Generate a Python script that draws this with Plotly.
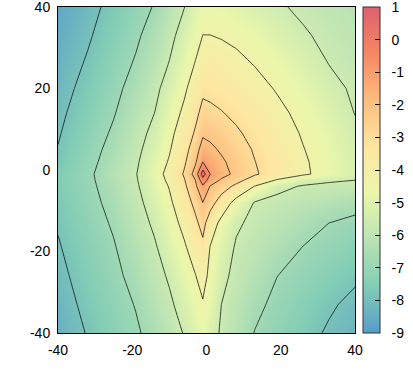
import plotly.graph_objects as go

# grid nodes (contour positions + fill colours)
x_nodes = [-40, -32, -25, -19, -14, -10, -6, -3, -1, 1, 4, 8, 13, 19, 26, 33, 40]
y_nodes = [-40, -33, -26, -19, -13, -8, -4, -2.5, -1, 2, 5, 9, 14, 20, 26, 33, 40]

row_m40 = [-8.43, -7.85, -7.35, -6.93, -6.45, -6.01, -5.55, -5.08, -4.76, -5.17, -5.72, -6.22, -6.83, -7.20, -7.63, -8.00, -8.30]
row_m33 = [-8.28, -7.69, -7.20, -6.75, -6.20, -5.77, -5.20, -4.72, -4.40, -4.89, -5.60, -6.03, -6.58, -7.02, -7.41, -7.79, -8.10]
row_m26 = [-8.12, -7.54, -7.03, -6.50, -5.96, -5.48, -4.83, -4.34, -3.87, -4.60, -5.35, -5.85, -6.28, -6.79, -7.12, -7.45, -7.77]
row_m19 = [-7.97, -7.38, -6.87, -6.25, -5.71, -5.11, -4.44, -3.77, -3.26, -4.35, -5.03, -5.70, -6.01, -6.39, -6.82, -7.09, -7.35]
row_m13 = [-7.83, -7.24, -6.69, -6.04, -5.44, -4.78, -4.00, -3.23, -2.63, -3.60, -4.63, -5.46, -5.82, -6.10, -6.45, -6.80, -6.99]
row_m8 = [-7.72, -7.12, -6.51, -5.88, -5.17, -4.50, -3.56, -2.71, -2.01, -2.58, -3.49, -4.73, -5.66, -5.85, -6.07, -6.28, -6.50]
row_m4 = [-7.63, -7.03, -6.37, -5.73, -4.95, -4.24, -3.20, -2.21, -1.13, -2.05, -2.52, -3.22, -4.34, -5.35, -5.67, -5.76, -5.85]
row_m2_5 = [-7.59, -6.99, -6.32, -5.68, -4.86, -4.09, -3.07, -2.01, -0.44, -1.42, -2.14, -2.68, -3.47, -4.40, -5.22, -5.50, -5.60]
row_m1 = [-7.61, -6.97, -6.27, -5.64, -4.77, -3.96, -2.89, -1.62, 0.50, -1.00, -1.61, -2.26, -2.89, -3.47, -4.12, -4.72, -5.28]
row_p2 = [-7.78, -7.08, -6.38, -5.73, -4.94, -4.20, -3.16, -2.14, -1.00, -1.32, -1.84, -2.37, -2.98, -3.53, -4.16, -4.76, -5.31]
row_p5 = [-7.87, -7.17, -6.50, -5.84, -5.11, -4.39, -3.38, -2.45, -1.55, -1.78, -2.13, -2.56, -3.09, -3.62, -4.26, -4.81, -5.37]
row_p9 = [-7.97, -7.30, -6.67, -5.98, -5.33, -4.60, -3.69, -2.87, -2.16, -2.26, -2.48, -2.86, -3.29, -3.79, -4.39, -4.92, -5.47]
row_p14 = [-8.08, -7.46, -6.86, -6.19, -5.60, -4.87, -4.09, -3.29, -2.68, -2.77, -2.95, -3.21, -3.57, -4.04, -4.59, -5.11, -5.62]
row_p20 = [-8.22, -7.64, -7.05, -6.44, -5.83, -5.21, -4.48, -3.77, -3.23, -3.29, -3.40, -3.62, -3.95, -4.38, -4.85, -5.35, -5.73]
row_p26 = [-8.36, -7.81, -7.24, -6.70, -6.08, -5.56, -4.82, -4.25, -3.72, -3.74, -3.85, -4.04, -4.34, -4.69, -5.15, -5.61, -5.85]
row_p33 = [-8.52, -8.00, -7.45, -6.95, -6.39, -5.86, -5.22, -4.66, -4.29, -4.29, -4.37, -4.52, -4.76, -5.09, -5.51, -5.78, -6.02]
row_p40 = [-8.69, -8.16, -7.65, -7.17, -6.74, -6.19, -5.62, -5.08, -4.70, -4.76, -4.83, -4.96, -5.18, -5.50, -5.74, -5.96, -6.19]

z_rows = [row_m40, row_m33, row_m26, row_m19, row_m13, row_m8, row_m4, row_m2_5,
          row_m1, row_p2, row_p5, row_p9, row_p14, row_p20, row_p26, row_p33, row_p40]

# iso-lines drawn in the reference (levels of the fields above)
contour_levels = [0, -1, -2, -3, -4.3, -5.6, -6.8, -7.9]

axis_ticks = [-40, -20, 0, 20, 40]
axis_labels = ["-40", "-20", "0", "20", "40"]
cbar_ticks = [1, 0, -1, -2, -3, -4, -5, -6, -7, -8, -9]
cbar_labels = ["1", "0", "-1", "-2", "-3", "-4", "-5", "-6", "-7", "-8", "-9"]
z_min, z_max = -9, 1

# Spectral palette drawn semi-transparent over white
spectral = ["#3288BD", "#66C2A5", "#ABDDA4", "#E6F598", "#FEE08B", "#FDAE61", "#F46D43", "#D53E4F"]
alpha = 0.82


def blend(hx):
    r, g, b = int(hx[1:3], 16), int(hx[3:5], 16), int(hx[5:7], 16)
    f = lambda c: round(c * alpha + 255 * (1 - alpha))
    return f"rgb({f(r)},{f(g)},{f(b)})"


cscale = [[i / (len(spectral) - 1), blend(c)] for i, c in enumerate(spectral)]

font = dict(family="Liberation Sans, Arial, sans-serif", size=14, color="black")
pad = "\u00a0\u00a0"

fig = go.Figure()
fig.add_trace(go.Heatmap(
    x=x_nodes, y=y_nodes, z=z_rows, zsmooth="best",
    colorscale=cscale, zmin=z_min, zmax=z_max,
    colorbar=dict(
        x=1.027, xanchor="left", y=0.5, yanchor="middle", len=1, lenmode="fraction",
        thickness=17, xpad=0, ypad=0, outlinewidth=1, outlinecolor="#333",
        tickvals=cbar_ticks, ticktext=[pad + t for t in cbar_labels], ticks="inside",
        ticklen=5, tickcolor="black", tickfont=font, ticklabeloverflow="allow",
    ),
))
for lev in contour_levels:
    fig.add_trace(go.Contour(
        x=x_nodes, y=y_nodes, z=z_rows, showscale=False,
        contours=dict(start=lev, end=lev, size=1, coloring="none"),
        line=dict(color="black", width=0.7, smoothing=0),
        hoverinfo="skip",
    ))
fig.update_layout(
    width=413, height=390,
    margin=dict(l=58, r=58, t=7, b=57, autoexpand=False),
    paper_bgcolor="white", plot_bgcolor="white",
    font=font, showlegend=False,
)
common = dict(range=[-40, 40], tickvals=axis_ticks, ticktext=axis_labels, showline=True,
              mirror=True, linecolor="black", linewidth=1, ticks="outside", ticklen=4,
              tickcolor="rgba(0,0,0,0)", showgrid=False, zeroline=False, tickfont=font,
              ticklabeloverflow="allow")
fig.update_xaxes(**common)
fig.update_yaxes(**common)
fig.write_html("out.html")
